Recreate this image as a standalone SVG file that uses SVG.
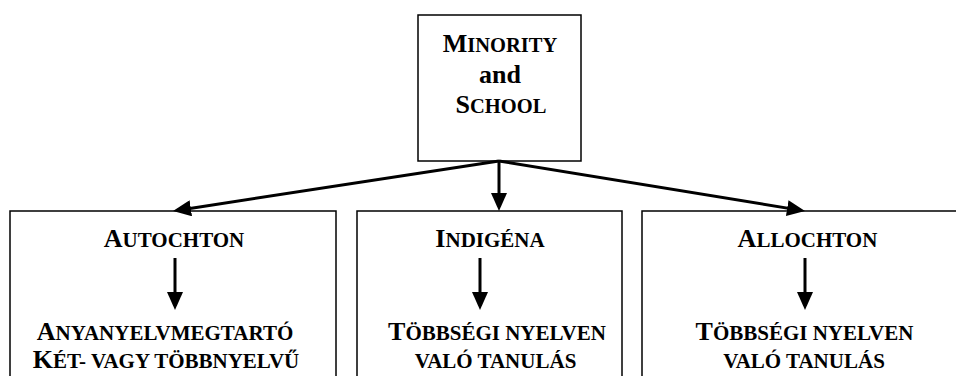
<svg xmlns="http://www.w3.org/2000/svg" width="956" height="376" viewBox="0 0 956 376">
<style>
.box{fill:#fff;stroke:#000;stroke-width:1.5}
.t{font-family:"Liberation Serif","Times New Roman",serif;font-weight:bold;fill:#000;text-anchor:middle}
.cb{font-size:26px}.cs{font-size:20.5px}
.b{font-size:26px}.s{font-size:21px}
.conn{stroke:#000;stroke-width:3;fill:none;marker-end:url(#ah)}
</style>
<defs>
<marker id="ah" viewBox="0 0 18 16" refX="14" refY="8" markerWidth="18" markerHeight="16" orient="auto" markerUnits="userSpaceOnUse">
<path d="M0,0 L18,8 L0,16 z" fill="#000"/>
</marker>
</defs>
<rect width="956" height="376" fill="#fff"/>
<g id="minority-school">
<rect class="box" x="418" y="15" width="163" height="146"/>
<text class="t" x="500" y="52"><tspan class="cb">M</tspan><tspan class="cs">INORITY</tspan></text>
<text class="t cb" x="500" y="82.5">and</text>
<text class="t" x="501" y="113"><tspan class="cb">S</tspan><tspan class="cs">CHOOL</tspan></text>
</g>
<g id="autochton">
<rect class="box" x="10" y="211" width="326" height="180"/>
<text class="t" x="174" y="246.5"><tspan class="b">A</tspan><tspan class="s">UTOCHTON</tspan></text>
<text class="t" x="165" y="340"><tspan class="b">A</tspan><tspan class="s">NYANYELVMEGTARTÓ</tspan></text>
<text class="t" x="166" y="368"><tspan class="b">K</tspan><tspan class="s">ÉT- VAGY TÖBBNYELVŰ</tspan></text>
</g>
<g id="indigena">
<rect class="box" x="357" y="211" width="265" height="180"/>
<text class="t" x="490" y="246.5"><tspan class="b">I</tspan><tspan class="s">NDIGÉNA</tspan></text>
<text class="t" x="497" y="340"><tspan class="b">T</tspan><tspan class="s">ÖBBSÉGI NYELVEN</tspan></text>
<text class="t" x="495.5" y="368"><tspan class="s">VALÓ TANULÁS</tspan></text>
</g>
<g id="allochton">
<rect class="box" x="642" y="211" width="330" height="180"/>
<text class="t" x="807.5" y="246.5"><tspan class="b">A</tspan><tspan class="s">LLOCHTON</tspan></text>
<text class="t" x="804.5" y="340"><tspan class="b">T</tspan><tspan class="s">ÖBBSÉGI NYELVEN</tspan></text>
<text class="t" x="804" y="368"><tspan class="s">VALÓ TANULÁS</tspan></text>
</g>
<g id="connectors">
<line class="conn" x1="499" y1="161" x2="176.96" y2="210.4"/>
<line class="conn" x1="499" y1="161" x2="499" y2="207"/>
<line class="conn" x1="499" y1="161" x2="801.05" y2="210.37"/>
<line class="conn" x1="175" y1="258" x2="175" y2="306"/>
<line class="conn" x1="480" y1="258" x2="480" y2="306"/>
<line class="conn" x1="805" y1="258" x2="805" y2="306"/>
</g>
</svg>
